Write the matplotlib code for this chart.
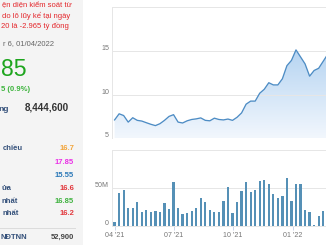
import numpy as np
import matplotlib
matplotlib.use("Agg")
import matplotlib.pyplot as plt
from matplotlib.transforms import ScaledTranslation

plt.rcParams["font.family"] = ["Liberation Sans", "DejaVu Sans"]

# weekly points, 01/04/2021 -> 31/03/2022
dates = np.arange(np.datetime64("2021-04-01"), np.datetime64("2022-04-01"), np.timedelta64(7, "D"))

price = [7.1, 7.8, 7.6, 6.85, 7.35, 7.05, 6.97, 6.78, 6.6, 6.45,
         6.67, 7.05, 7.5, 7.7, 6.85, 6.75, 7.0, 7.15, 7.22, 7.33,
         7.05, 7.0, 7.3, 7.15, 7.1, 7.2, 7.05, 7.4, 7.9, 8.9,
         9.25, 9.25, 10.15, 10.6, 11.35, 11.1, 11.1, 11.8, 13.3, 13.9,
         15.1, 14.3, 13.5, 12.1, 12.75, 13.0, 13.8, 14.6, 15.2, 15.6,
         16.2, 16.7, 16.85]

volume_m = [5, 43, 47, 23, 23, 31, 18, 20.5, 18, 18.5,
            18, 29, 22, 57, 23, 15, 16.5, 18.5, 23, 36,
            31, 20, 18, 18, 32, 51, 17, 31, 45, 57.5,
            44, 47, 59, 60, 54, 41, 36, 39, 63, 32,
            54, 54.5, 20, 18, 0.5, 12, 19, 30, 38, 42,
            35, 30, 25]

xtick_dates = ["2021-04-01", "2021-07-01", "2021-10-01", "2022-01-01"]
xtick_labels = ["04 '21", "07 '21", "10 '21", "01 '22"]
price_ticks = [5, 10, 15, 20]
price_labels = ["5", "10", "15", ""]
vol_ticks = [0, 50, 100]
vol_labels = ["0", "50M", ""]

# the screenshot cuts the left side of the info panel, keep only what shows
note_lines = ["ện diện kiểm soát từ", "do lỗ lũy kế tại ngày", "20 là -2.965 tỷ đồng"]
row_labels = ["chiều", "", "", "ửa", "nhất", "nhất"]
row_values = ["16.7", "17.85", "15.55", "16.6", "16.85", "16.2"]
row_colors = ["#f2a43a", "#ea2ee6", "#2a78b8", "#e2383d", "#3fb23f", "#e2383d"]

W, H = 326, 245
px = 72 / 100  # points per pixel at dpi 100


def box(l, t, r, b):
    return [l / W, 1 - b / H, (r - l) / W, (b - t) / H]


fig = plt.figure(figsize=(W / 100, H / 100), dpi=100)

# left info panel
bg = fig.add_axes([0, 0, 1, 1])
bg.set_xlim(0, W)
bg.set_ylim(H, 0)
bg.axis("off")
bg.add_patch(plt.Rectangle((0, 0), 83, H, color="#f4f4f4", lw=0))

red = "#e4262b"
lab = "#34507a"
for txt, r, y in zip(note_lines, [72, 70, 69], [7.5, 18, 27.5]):
    bg.text(r, y, txt, ha="right", va="baseline", color=red, fontsize=7.7 * px)
bg.text(54, 45, "r 6, 01/04/2022", ha="right", va="baseline", color="#666666", fontsize=7.7 * px)
bg.text(27, 75.5, "85", ha="right", va="baseline", color="#1ea51e", fontsize=23 * px)
bg.text(30, 91, "5 (0.9%)", ha="right", va="baseline", color="#3cb43c",
        fontsize=7.7 * px, fontweight="bold")
bg.text(9, 110.5, "ng", ha="right", va="baseline", color=lab,
        fontsize=8.4 * px, fontweight="bold")
bg.text(68.5, 110.5, "8,444,600", ha="right", va="baseline", color="#333333",
        fontsize=9.9 * px, fontweight="bold")

row_y = [149.8, 163.6, 176.8, 189.8, 202.8, 215.3]
label_right = [23, 0, 0, 11, 18, 18.5]
for name, val, col, y, r in zip(row_labels, row_values, row_colors, row_y, label_right):
    if name:
        bg.text(r, y, name, ha="right", va="baseline", color=lab,
                fontsize=7.7 * px, fontweight="bold")
    bg.text(74, y, val, ha="right", va="baseline", color=col,
            fontsize=7.7 * px, fontweight="bold")
bg.plot([0, 75], [227.5, 227.5], color="#dcdcdc", lw=1 * px)
bg.text(0.5, 238.8, "NĐTNN", ha="left", va="baseline", color=lab,
        fontsize=7.7 * px, fontweight="bold")
bg.text(74, 238.8, "52,900", ha="right", va="baseline", color="#444444",
        fontsize=7.7 * px, fontweight="bold")

xmin = np.datetime64("2021-03-28")
xmax = np.datetime64("2022-04-04")
grid_c = "#e6e6e6"
tick_c = "#777777"
shift_up = ScaledTranslation(0, 3.5 / 100, fig.dpi_scale_trans)

# price chart
ax = fig.add_axes(box(112, 7, 353, 138.3))
ax.set_facecolor("none")
line_c = "#4d8cc4"
poly = ax.fill_between(dates, price, 5, color="none", lw=0)
grad = np.linspace(0, 1, 256).reshape(-1, 1)
top_c = np.array([152, 195, 236]) / 255
bot_c = np.array([242, 247, 253]) / 255
img = top_c * (1 - grad[..., None]) + bot_c * grad[..., None]
im = ax.imshow(img, extent=[0, 1, 0, 1], transform=ax.transAxes, aspect="auto", zorder=1)
im.set_clip_path(poly.get_paths()[0], transform=ax.transData)
ax.plot(dates, price, color=line_c, lw=1.3 * px, zorder=3)
ax.set_xlim(xmin, xmax)
ax.set_ylim(5, 20)
ax.set_yticks(price_ticks)
ax.set_yticklabels(price_labels)
ax.set_xticks([])
ax.grid(axis="y", color=grid_c, lw=1 * px, zorder=0)
for s in ["top", "right", "bottom"]:
    ax.spines[s].set_visible(False)
ax.spines["left"].set_color(grid_c)
ax.spines["left"].set_linewidth(1 * px)
ax.tick_params(axis="y", length=0, pad=3 * px, labelsize=7.2 * px, labelcolor=tick_c)
for t in ax.get_yticklabels():
    t.set_transform(t.get_transform() + shift_up)

# volume chart
av = fig.add_axes(box(112, 149.5, 353, 225.5))
av.set_facecolor("none")
av.bar(dates, volume_m, width=3.5, color="#5590b6", zorder=2)
av.set_xlim(xmin, xmax)
av.set_ylim(0, 100)
av.set_yticks(vol_ticks)
av.set_yticklabels(vol_labels)
av.set_xticks([np.datetime64(d) for d in xtick_dates])
av.set_xticklabels(xtick_labels)
av.grid(axis="y", color=grid_c, lw=1 * px, zorder=0)
for s in ["top", "right"]:
    av.spines[s].set_visible(False)
for s in ["left", "bottom"]:
    av.spines[s].set_color(grid_c)
    av.spines[s].set_linewidth(1 * px)
av.tick_params(axis="y", length=0, pad=3 * px, labelsize=7.2 * px, labelcolor=tick_c)
av.tick_params(axis="x", length=4 * px, width=1 * px, color="#ccd6eb", pad=2.5 * px,
               labelsize=7.2 * px, labelcolor=tick_c)
for t in av.get_yticklabels():
    t.set_transform(t.get_transform() + shift_up)

fig.savefig("out.png", dpi=100)
